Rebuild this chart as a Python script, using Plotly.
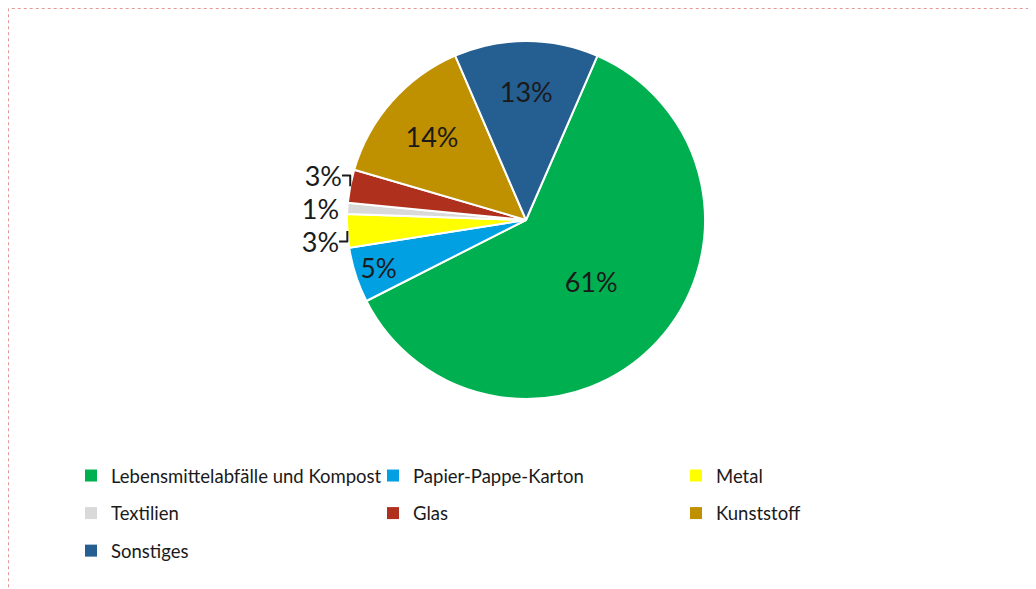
import plotly.graph_objects as go

categories = ["Lebensmittelabfälle und Kompost", "Papier-Pappe-Karton", "Metal",
              "Textilien", "Glas", "Kunststoff", "Sonstiges"]
values = [61, 5, 3, 1, 3, 14, 13]
colors = ["#00B050", "#00A0E3", "#FFFF00", "#D9D9D9", "#B0301E", "#BF9000", "#255E91"]
text_positions = ["inside", "inside", "outside", "outside", "outside", "inside", "inside"]

# The page body adds an 8px offset, so the figure is sized to the remaining area
OFF = 8
W, H = 1036 - OFF, 589 - OFF
cx, cy, r = 526 - OFF, 220 - OFF, 179

fig = go.Figure()
fig.add_trace(go.Pie(
    labels=categories,
    values=values,
    sort=False,
    direction="clockwise",
    rotation=23.5,
    marker=dict(colors=colors, line=dict(color="white", width=2)),
    texttemplate="%{value}%",
    textposition=text_positions,
    insidetextorientation="horizontal",
    textfont=dict(family="Lato", size=27, color="#1a1a1a"),
    outsidetextfont=dict(family="Lato", size=27, color="#1a1a1a"),
    domain=dict(x=[(cx - r) / W, (cx + r) / W], y=[1 - (cy + r) / H, 1 - (cy - r) / H]),
    hoverinfo="label+percent",
    showlegend=False,
))

legend_names = ["legend", "legend2", "legend3"]
for i, (cat, col) in enumerate(zip(categories, colors)):
    fig.add_trace(go.Scatter(
        x=[None], y=[None], mode="markers",
        marker=dict(symbol="square", size=12, color=col),
        name=cat, legendgroup=cat, legend=legend_names[i % 3], showlegend=True,
        hoverinfo="skip",
    ))

legend_common = dict(
    orientation="v", xanchor="left", yanchor="top",
    font=dict(family="Lato", size=18.5, color="#1a1a1a"),
    traceorder="grouped", tracegroupgap=10.5, itemwidth=30,
    bgcolor="rgba(0,0,0,0)",
)
legend_top = 1 - (457 - OFF) / H
col_x = [71, 373, 676]

fig.update_layout(
    width=W, height=H,
    margin=dict(l=0, r=0, t=0, b=0),
    paper_bgcolor="white",
    plot_bgcolor="white",
    font=dict(family="Lato", color="#1a1a1a"),
    xaxis=dict(visible=False),
    yaxis=dict(visible=False),
    legend=dict(x=(col_x[0] - OFF) / W, y=legend_top, **legend_common),
    legend2=dict(x=(col_x[1] - OFF) / W, y=legend_top, **legend_common),
    legend3=dict(x=(col_x[2] - OFF) / W, y=legend_top, **legend_common),
    shapes=[dict(type="rect", xref="paper", yref="paper",
                 x0=0.5 / W, x1=1.02, y0=-0.02, y1=1 - 0.5 / H,
                 line=dict(color="#E39A94", width=1, dash="dot"))],
)

fig.write_html("out.html")
